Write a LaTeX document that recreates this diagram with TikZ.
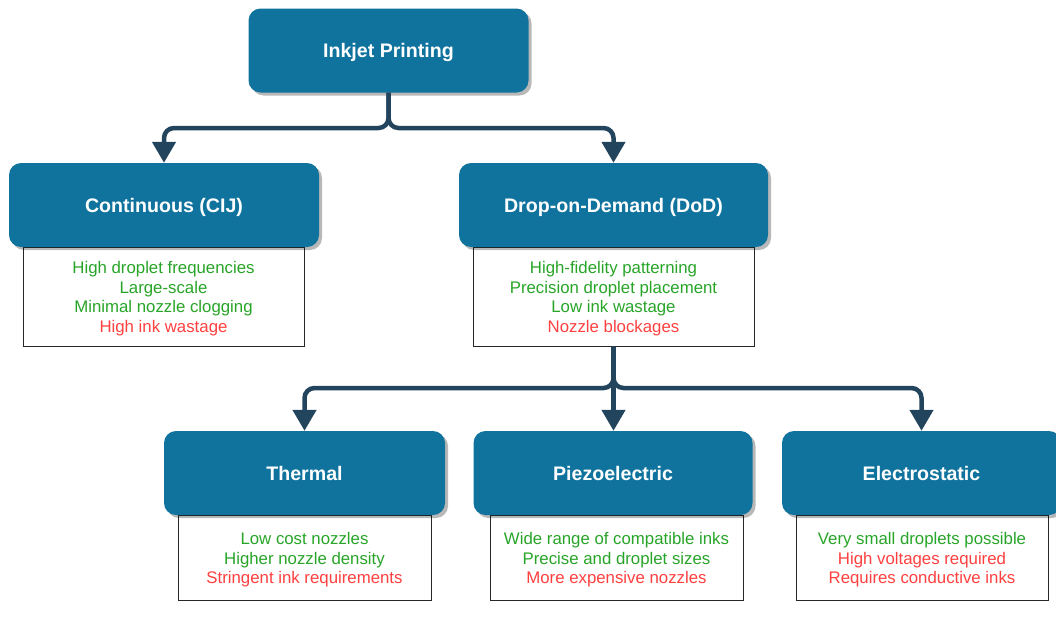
\documentclass[tikz,border=0pt]{standalone}
\usepackage{fontspec}
\setmainfont{Liberation Sans}
\usetikzlibrary{arrows.meta,shadows}
\definecolor{boxblue}{HTML}{10739E}
\definecolor{connc}{HTML}{23445D}
\definecolor{proc}{RGB}{40,165,40}
\definecolor{conc}{RGB}{255,64,64}
\tikzset{
  headbox/.style={rectangle, rounded corners=12pt, fill=boxblue, text=white,
    inner sep=0pt, minimum height=84pt, text height=14pt, text depth=0pt,
    font=\fontsize{19.6}{23}\selectfont\bfseries,
    drop shadow={shadow xshift=3pt, shadow yshift=-3pt, fill=black, opacity=0.28}},
  listbox/.style={rectangle, draw=black!85, line width=1pt, fill=white,
    inner sep=0pt, align=center, font=\fontsize{16.8}{19.8}\selectfont},
  conn/.style={draw=connc, line width=4.5pt, rounded corners=10pt,
    -{Triangle[width=23pt,length=21pt]}},
}
\newcommand{\pro}[1]{\textcolor{proc}{#1}}
\newcommand{\con}[1]{\textcolor{conc}{#1}}
\newcommand{\lift}{\rule{0pt}{16.5pt}}
\begin{document}
\begin{tikzpicture}[x=1pt,y=-1pt]
\useasboundingbox (0,0) rectangle (1056,632);
\clip (0,0) rectangle (1056,632);
% list boxes
\node[listbox, minimum width=281pt, minimum height=99pt] (contt) at (163.5,296.5)
  {\lift\pro{High droplet frequencies}\\\pro{Large-scale}\\\pro{Minimal nozzle clogging}\\\con{High ink wastage}};
\node[listbox, minimum width=281pt, minimum height=99pt] (dodt) at (613.5,296.5)
  {\lift\pro{High-fidelity patterning}\\\pro{Precision droplet placement}\\\pro{Low ink wastage}\\\con{Nozzle blockages}};
\node[listbox, minimum width=253pt, minimum height=85pt] (thermt) at (304.5,557.5)
  {\lift\pro{Low cost nozzles}\\\pro{Higher nozzle density}\\\con{Stringent ink requirements}};
\node[listbox, minimum width=253pt, minimum height=85pt] (piezot) at (616.5,557.5)
  {\lift\pro{Wide range of compatible inks}\\\pro{Precise and droplet sizes}\\\con{More expensive nozzles}};
\node[listbox, minimum width=252pt, minimum height=85pt] (electt) at (922,557.5)
  {\lift\pro{Very small droplets possible}\\\con{High voltages required}\\\con{Requires conductive inks}};
% header boxes
\node[headbox, minimum width=280pt] (top) at (388.5,50.5) {Inkjet Printing};
\node[headbox, minimum width=310pt] (cont) at (164,205) {Continuous (CIJ)};
\node[headbox, minimum width=309pt] (dod) at (613.5,205) {Drop-on-Demand (DoD)};
\node[headbox, minimum width=281pt] (therm) at (304.5,473) {Thermal};
\node[headbox, minimum width=279pt] (piezo) at (613,473) {Piezoelectric};
\node[headbox, minimum width=279pt] (elect) at (921.5,473) {Electrostatic};
% connectors
\coordinate (j1) at (388.5,128);
\coordinate (j2) at (613.5,388);
\draw[conn] (top.south) -- (j1) -| (cont.north);
\draw[conn] (top.south) -- (j1) -| (dod.north);
\draw[conn] (dodt.south) -- (j2) -| (therm.north);
\draw[conn] (dodt.south) -- (dodt.south |- piezo.north);
\draw[conn] (dodt.south) -- (j2) -| (elect.north);
\end{tikzpicture}
\end{document}
